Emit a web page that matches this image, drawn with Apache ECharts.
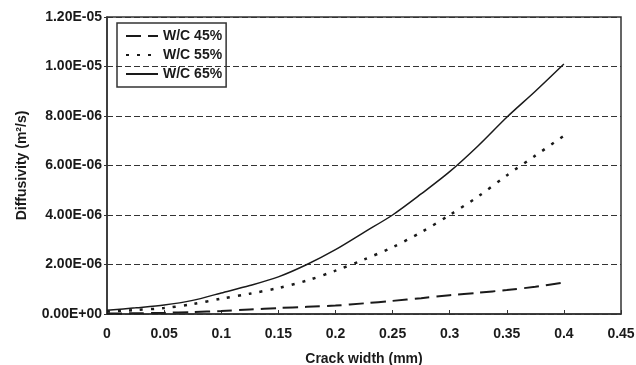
<!DOCTYPE html>
<html>
<head>
<meta charset="utf-8">
<script src="https://cdn.jsdelivr.net/npm/echarts@6/dist/echarts.min.js"></script>
<style>
	html, body { margin: 0; padding: 0; background: #fff; }
	#chart { width: 636px; height: 365px; }
</style>
</head>
<body>
<div id="chart"></div>
<script>
// crack width (mm)
const crackWidth = [0, 0.025, 0.05, 0.075, 0.1, 0.125, 0.15, 0.175, 0.2, 0.225, 0.25, 0.275, 0.3, 0.325, 0.35, 0.375, 0.4];
// diffusivity (m2/s)
const wc45 = [0.02e-6, 0.03e-6, 0.05e-6, 0.08e-6, 0.12e-6, 0.18e-6, 0.24e-6, 0.29e-6, 0.34e-6, 0.43e-6, 0.53e-6, 0.64e-6, 0.76e-6, 0.86e-6, 0.97e-6, 1.1e-6, 1.27e-6];
const wc55 = [0.1e-6, 0.16e-6, 0.24e-6, 0.4e-6, 0.62e-6, 0.82e-6, 1.05e-6, 1.35e-6, 1.75e-6, 2.2e-6, 2.7e-6, 3.3e-6, 4.0e-6, 4.75e-6, 5.6e-6, 6.4e-6, 7.2e-6];
const wc65 = [0.15e-6, 0.25e-6, 0.36e-6, 0.55e-6, 0.85e-6, 1.15e-6, 1.5e-6, 2.0e-6, 2.6e-6, 3.3e-6, 4.0e-6, 4.85e-6, 5.75e-6, 6.8e-6, 7.95e-6, 9.0e-6, 1.01e-5];
const seriesNames = ["W/C 45%", "W/C 55%", "W/C 65%"];

const INK = "#1a1a1a";
const FONT = "Liberation Sans, Arial, sans-serif";

function fmtSci(v) {
	const s = Number(v).toExponential(2).toUpperCase();
	const [m, e] = s.split("E");
	const sign = e[0] === "-" ? "-" : "+";
	const digits = e.replace(/[+-]/, "").padStart(2, "0");
	return `${m}E${sign}${digits}`;
}

const pairs = (ys) => crackWidth.map((x, i) => [x, ys[i]]);

const chart = echarts.init(document.getElementById("chart"));
chart.setOption({
	animation: false,
	textStyle: { fontFamily: FONT },
	grid: {
		left: 107, right: 15, top: 17, bottom: 51,
		outerBoundsMode: "none",
		show: true, borderColor: "#333", borderWidth: 1.5, backgroundColor: "transparent",
	},
	legend: {
		orient: "vertical",
		left: 117,
		top: 23,
		padding: [6, 4, 6, 8],
		itemGap: 5,
		itemWidth: 32,
		itemHeight: 14,
		itemStyle: { opacity: 0 },
		borderColor: "#333",
		borderWidth: 1.5,
		textStyle: { color: INK, fontWeight: "bold", fontSize: 14, fontFamily: FONT },
		data: seriesNames,
	},
	xAxis: {
		type: "value",
		min: 0,
		max: 0.45,
		interval: 0.05,
		name: "Crack width (mm)",
		nameLocation: "middle",
		nameGap: 38,
		nameTextStyle: { color: INK, fontWeight: "bold", fontSize: 14 },
		axisLine: { lineStyle: { color: "#333", width: 1.5 } },
		axisTick: { show: true, inside: true, length: 4, lineStyle: { color: "#333" } },
		axisLabel: { color: INK, fontWeight: "bold", fontSize: 14, margin: 13, formatter: (v) => (v === 0 ? "0" : String(+v.toFixed(2))) },
		splitLine: { show: false },
	},
	yAxis: {
		type: "value",
		min: 0,
		max: 1.2e-5,
		interval: 2e-6,
		name: "Diffusivity (m\u00b2/s)",
		nameLocation: "middle",
		nameGap: 78,
		nameTextStyle: { color: INK, fontWeight: "bold", fontSize: 14 },
		axisLine: { lineStyle: { color: "#333", width: 1.5 } },
		axisTick: { show: true, length: 3, lineStyle: { color: "#333" } },
		axisLabel: { color: INK, fontWeight: "bold", fontSize: 14, margin: 5, formatter: fmtSci },
		splitLine: { show: true, lineStyle: { color: "#333", width: 1.2, type: [6, 3] } },
	},
	series: [
		{
			name: seriesNames[0],
			type: "line",
			data: pairs(wc45),
			smooth: 0.3,
			symbol: "none",
			itemStyle: { color: INK },
			lineStyle: { color: INK, width: 2, type: [15, 7] },
		},
		{
			name: seriesNames[1],
			type: "line",
			data: pairs(wc55),
			smooth: 0.3,
			symbol: "none",
			itemStyle: { color: INK },
			lineStyle: { color: INK, width: 2.5, type: [3, 8] },
		},
		{
			name: seriesNames[2],
			type: "line",
			data: pairs(wc65),
			smooth: 0.3,
			symbol: "none",
			itemStyle: { color: INK },
			lineStyle: { color: INK, width: 1.5, type: "solid" },
		},
	],
});
</script>
</body>
</html>
